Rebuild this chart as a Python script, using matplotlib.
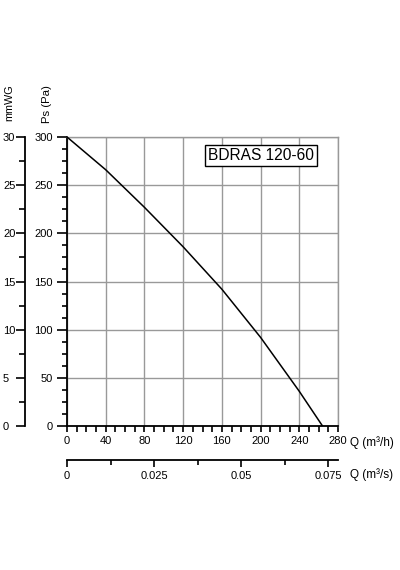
import matplotlib
matplotlib.use("Agg")
import matplotlib.pyplot as plt
from matplotlib.ticker import MultipleLocator, FixedLocator, FixedFormatter

plt.rcParams['font.family'] = ['Liberation Sans', 'DejaVu Sans']

# Data
flow_m3h = [0, 40, 80, 120, 160, 200, 240, 264]
pressure_pa = [300, 266, 227, 186, 142, 92, 36, 0]
model_name = "BDRAS 120-60"
m3s_ticks = [0, 0.025, 0.05, 0.075]
m3s_labels = ["0", "0.025", "0.05", "0.075"]

W, H = 400, 570
fig = plt.figure(figsize=(W / 100, H / 100), dpi=100)

def fx(px):
    return px / W

def fy(py):
    return 1 - py / H

x0, x1 = 67, 338
y0, y1 = 426, 137
PT = 0.72  # points per pixel
FS = 8.0

grid_c = "#999999"

ax = fig.add_axes([fx(x0), fy(y0), fx(x1 - x0), (y0 - y1) / H])
ax.plot(flow_m3h, pressure_pa, color="black", lw=1.1, zorder=3)
ax.set_xlim(0, 280)
ax.set_ylim(0, 300)
ax.xaxis.set_major_locator(MultipleLocator(40))
ax.xaxis.set_minor_locator(MultipleLocator(10))
ax.yaxis.set_major_locator(MultipleLocator(50))
ax.yaxis.set_minor_locator(MultipleLocator(12.5))
ax.grid(True, which="major", color=grid_c, lw=1.0)
ax.set_axisbelow(True)
for s in ["top", "right"]:
    ax.spines[s].set_color(grid_c)
    ax.spines[s].set_linewidth(1.0)
for s in ["left", "bottom"]:
    ax.spines[s].set_color("black")
    ax.spines[s].set_linewidth(1.3)
ax.tick_params(axis="y", which="major", direction="out", length=10 * PT, width=1.2, pad=3, labelsize=FS)
ax.tick_params(axis="y", which="minor", direction="out", length=5 * PT, width=1.2)
ax.tick_params(axis="x", which="major", direction="out", length=6 * PT, width=1.2, pad=3, labelsize=FS)
ax.tick_params(axis="x", which="minor", direction="out", length=6 * PT, width=1.2)

ax.text(0.715, 0.935, model_name, transform=ax.transAxes, ha="center", va="center",
        fontsize=11.2, zorder=5,
        bbox=dict(boxstyle="square,pad=0.2", facecolor="white", edgecolor="black", lw=1.0))

fig.text(fx(350), fy(443), "Q (m³/h)", ha="left", va="center", fontsize=8.5)
fig.text(fx(350), fy(475), "Q (m³/s)", ha="left", va="center", fontsize=8.5)
fig.text(fx(47), fy(104), "Ps (Pa)", ha="center", va="center", rotation=90, fontsize=8.2)
fig.text(fx(9), fy(103), "mmWG", ha="center", va="center", rotation=90, fontsize=7.8)

# mmWG axis
axm = fig.add_axes([fx(25), fy(y0), 0.0001, (y0 - y1) / H])
axm.set_ylim(0, 30)
axm.set_xticks([])
for s in ["top", "right", "bottom"]:
    axm.spines[s].set_visible(False)
axm.spines["left"].set_linewidth(1.3)
axm.patch.set_visible(False)
axm.yaxis.set_major_locator(MultipleLocator(5))
axm.yaxis.set_minor_locator(MultipleLocator(2.5))
axm.tick_params(axis="y", which="major", direction="out", length=9 * PT, width=1.2,
                pad=13 * PT, labelsize=FS)
axm.tick_params(axis="y", which="minor", direction="out", length=6 * PT, width=1.2)
for lbl in axm.get_yticklabels():
    lbl.set_horizontalalignment("left")

# m3/s axis
axs = fig.add_axes([fx(x0), fy(459.5), fx(x1 - x0), 0.0001])
axs.set_xlim(0, 280 / 3600)
axs.set_yticks([])
for s in ["top", "right", "left"]:
    axs.spines[s].set_visible(False)
axs.spines["bottom"].set_linewidth(1.3)
axs.patch.set_visible(False)
axs.xaxis.set_major_locator(FixedLocator(m3s_ticks))
axs.xaxis.set_major_formatter(FixedFormatter(m3s_labels))
axs.xaxis.set_minor_locator(MultipleLocator(0.0125))
axs.tick_params(axis="x", which="major", direction="out", length=7 * PT, width=1.2, pad=3, labelsize=FS)
axs.tick_params(axis="x", which="minor", direction="out", length=5 * PT, width=1.2)

fig.savefig("out.png", dpi=100, facecolor="white")
